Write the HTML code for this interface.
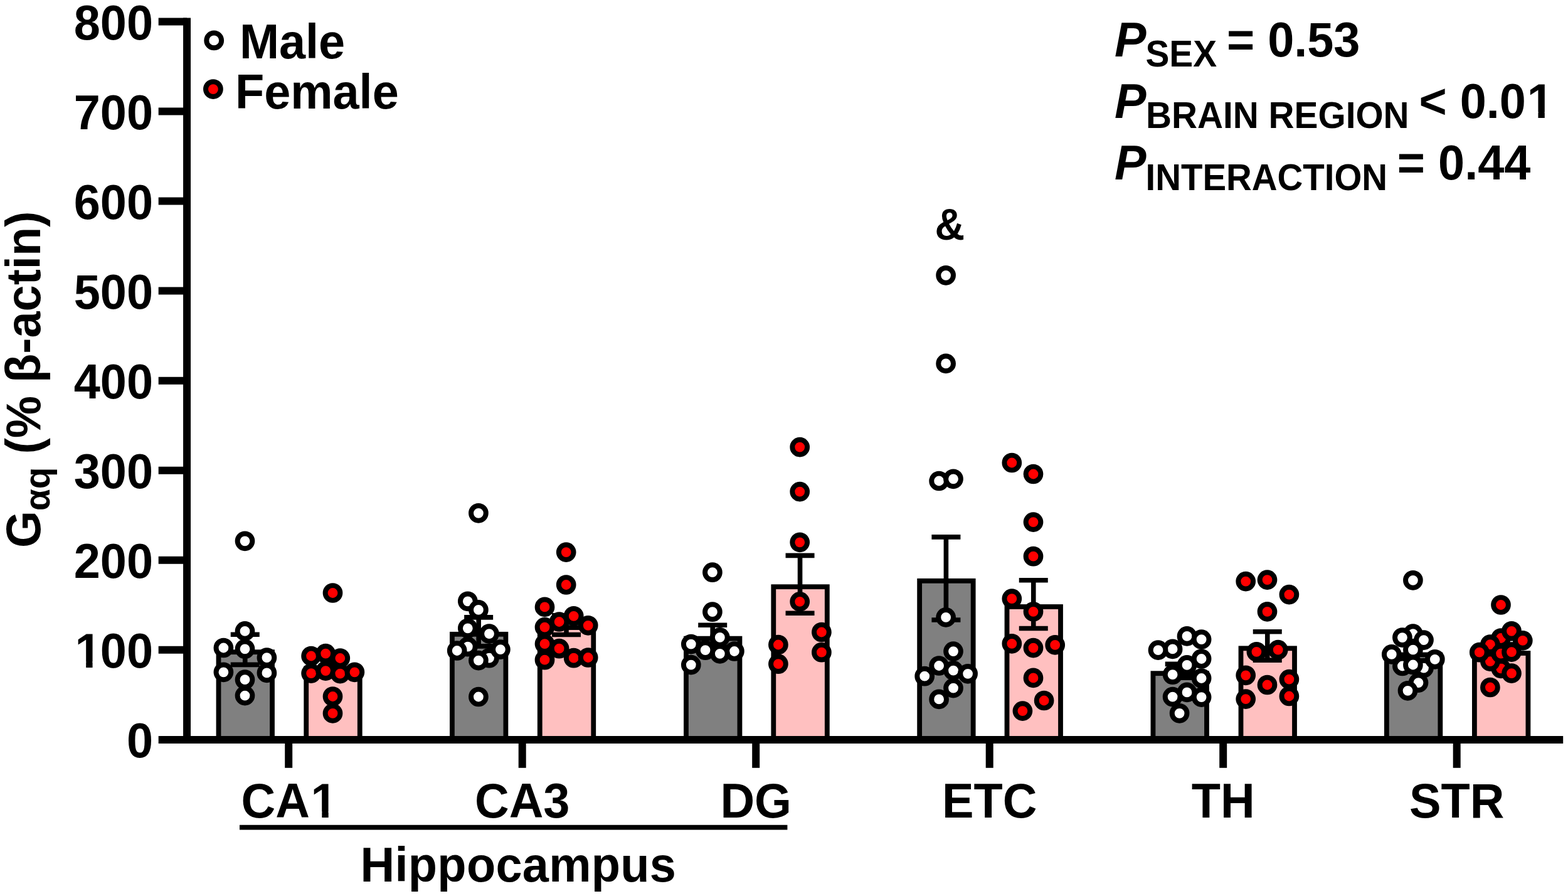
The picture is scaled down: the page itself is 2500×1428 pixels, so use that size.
<!DOCTYPE html>
<html lang="en"><head><meta charset="utf-8"><title>G&#945;q (% &#946;-actin)</title>
<style>
html,body{margin:0;padding:0;background:#fff;}
body{width:2500px;height:1428px;}
svg{display:block;}
text{font-family:"Liberation Sans", sans-serif;font-weight:bold;fill:#000;}
.t{font-size:75.7px;}
.s{font-size:56.8px;}
.amp{font-size:66px;}
.bar{stroke:#000;stroke-width:7.8;}
.m{fill:#808080;}.f{fill:#ffc0c0;}
.e{stroke:#000;stroke-width:7.6;fill:none;}
.ax{stroke:#000;stroke-width:12;fill:none;}
.dm{fill:#fff;stroke:#000;stroke-width:7.95;}
.df{fill:#ff0000;stroke:#000;stroke-width:7.95;}
</style></head><body>
<svg xmlns="http://www.w3.org/2000/svg" width="2500" height="1428" viewBox="0 0 2500 1428">
<rect x="0" y="0" width="2500" height="1428" fill="#fff"/>
<g id="bars">
<rect class="bar m" x="348.5" y="1039.2" width="85.5" height="139.7"/>
<rect class="bar f" x="488.25" y="1065.4" width="85.5" height="113.5"/>
<rect class="bar m" x="720.9" y="1010.8" width="85.5" height="168.1"/>
<rect class="bar f" x="860.75" y="1000.1" width="85.5" height="178.8"/>
<rect class="bar m" x="1093.95" y="1017.65" width="85.5" height="161.25"/>
<rect class="bar f" x="1233.3" y="935.2" width="85.5" height="243.7"/>
<rect class="bar m" x="1466.15" y="925.8" width="85.5" height="253.1"/>
<rect class="bar f" x="1605.5" y="967" width="85.5" height="211.9"/>
<rect class="bar m" x="1838.45" y="1073.2" width="85.5" height="105.7"/>
<rect class="bar f" x="1978.5" y="1033.3" width="85.5" height="145.6"/>
<rect class="bar m" x="2210.85" y="1043.5" width="85.5" height="135.4"/>
<rect class="bar f" x="2350.9" y="1041" width="85.5" height="137.9"/>
</g>
<g id="errors">
<path class="e" d="M367.75 1011.2H413.75M367.75 1059.4H413.75M390.75 1011.2V1059.4"/>
<path class="e" d="M507.5 1045.6H553.5M507.5 1077.4H553.5M530.5 1045.6V1077.4"/>
<path class="e" d="M740.15 983.9H786.15M740.15 1029.9H786.15M763.15 983.9V1029.9"/>
<path class="e" d="M880 980.9H926M880 1011.5H926M903 980.9V1011.5"/>
<path class="e" d="M1113.2 996.2H1159.2M1113.2 1031.3H1159.2M1136.2 996.2V1031.3"/>
<path class="e" d="M1252.55 885.4H1298.55M1252.55 977.2H1298.55M1275.55 885.4V977.2"/>
<path class="e" d="M1485.4 855.85H1531.4M1485.4 987.95H1531.4M1508.4 855.85V987.95"/>
<path class="e" d="M1624.75 924.7H1670.75M1624.75 1001.5H1670.75M1647.75 924.7V1001.5"/>
<path class="e" d="M1857.7 1058.4H1903.7M1857.7 1080.2H1903.7M1880.7 1058.4V1080.2"/>
<path class="e" d="M1997.75 1006.7H2043.75M1997.75 1052.1H2043.75M2020.75 1006.7V1052.1"/>
<path class="e" d="M2230.1 1026.5H2276.1M2230.1 1052.7H2276.1M2253.1 1026.5V1052.7"/>
<path class="e" d="M2370.15 1027.2H2416.15M2370.15 1047H2416.15M2393.15 1027.2V1047"/>
</g>
<g id="axes">
<path class="ax" d="M298.05 28.42V1184.9"/>
<path class="ax" d="M252.7 1178.9H2492.2"/>
<path class="ax" d="M252.7 1035.84H298.05"/>
<path class="ax" d="M252.7 892.78H298.05"/>
<path class="ax" d="M252.7 749.72H298.05"/>
<path class="ax" d="M252.7 606.66H298.05"/>
<path class="ax" d="M252.7 463.6H298.05"/>
<path class="ax" d="M252.7 320.54H298.05"/>
<path class="ax" d="M252.7 177.48H298.05"/>
<path class="ax" d="M252.7 34.42H298.05"/>
<path class="ax" d="M460.2 1178.9V1223.8"/>
<path class="ax" d="M832.7 1178.9V1223.8"/>
<path class="ax" d="M1205.2 1178.9V1223.8"/>
<path class="ax" d="M1577.7 1178.9V1223.8"/>
<path class="ax" d="M1950.2 1178.9V1223.8"/>
<path class="ax" d="M2322.7 1178.9V1223.8"/>
</g>
<g id="points">
<g class="dm">
<circle cx="390.5" cy="862.3" r="11.875"/>
<circle cx="390.5" cy="1005.9" r="11.875"/>
<circle cx="356.4" cy="1032.5" r="11.875"/>
<circle cx="390.5" cy="1034.3" r="11.875"/>
<circle cx="425.4" cy="1048.2" r="11.875"/>
<circle cx="356.4" cy="1071.3" r="11.875"/>
<circle cx="425.4" cy="1072.4" r="11.875"/>
<circle cx="390.5" cy="1083.2" r="11.875"/>
<circle cx="390.5" cy="1108.6" r="11.875"/>
</g>
<g class="df">
<circle cx="530.5" cy="945" r="11.875"/>
<circle cx="496.1" cy="1045.5" r="11.875"/>
<circle cx="519.2" cy="1041.6" r="11.875"/>
<circle cx="542.3" cy="1049" r="11.875"/>
<circle cx="496.1" cy="1073.1" r="11.875"/>
<circle cx="519.2" cy="1069.1" r="11.875"/>
<circle cx="542.3" cy="1073.6" r="11.875"/>
<circle cx="565.4" cy="1071.3" r="11.875"/>
<circle cx="530.5" cy="1110" r="11.875"/>
<circle cx="530.5" cy="1136.9" r="11.875"/>
</g>
<g class="dm">
<circle cx="762.9" cy="817.8" r="11.875"/>
<circle cx="745.8" cy="958.3" r="11.875"/>
<circle cx="762.9" cy="971.9" r="11.875"/>
<circle cx="745.8" cy="1001.3" r="11.875"/>
<circle cx="780" cy="1010.1" r="11.875"/>
<circle cx="745.8" cy="1030.7" r="11.875"/>
<circle cx="728.7" cy="1037" r="11.875"/>
<circle cx="780" cy="1048.7" r="11.875"/>
<circle cx="797.9" cy="1035.1" r="11.875"/>
<circle cx="762.9" cy="1052.6" r="11.875"/>
<circle cx="762.9" cy="1110.5" r="11.875"/>
</g>
<g class="df">
<circle cx="902.7" cy="880.1" r="11.875"/>
<circle cx="902.7" cy="932" r="11.875"/>
<circle cx="868.5" cy="967.4" r="11.875"/>
<circle cx="914.7" cy="981.8" r="11.875"/>
<circle cx="891.6" cy="991" r="11.875"/>
<circle cx="937.7" cy="996.8" r="11.875"/>
<circle cx="868.5" cy="999.6" r="11.875"/>
<circle cx="868.5" cy="1026.2" r="11.875"/>
<circle cx="891.6" cy="1033.7" r="11.875"/>
<circle cx="914.7" cy="1048.7" r="11.875"/>
<circle cx="937.7" cy="1048" r="11.875"/>
<circle cx="868.5" cy="1051.7" r="11.875"/>
</g>
<g class="dm">
<circle cx="1135.9" cy="912.2" r="11.875"/>
<circle cx="1135.9" cy="975.2" r="11.875"/>
<circle cx="1147.8" cy="1015.9" r="11.875"/>
<circle cx="1101.8" cy="1026.6" r="11.875"/>
<circle cx="1124.6" cy="1036.2" r="11.875"/>
<circle cx="1170.9" cy="1038" r="11.875"/>
<circle cx="1147.8" cy="1041.8" r="11.875"/>
<circle cx="1101.8" cy="1059.6" r="11.875"/>
</g>
<g class="df">
<circle cx="1275.2" cy="712.6" r="11.875"/>
<circle cx="1275.2" cy="783.6" r="11.875"/>
<circle cx="1275.2" cy="864.3" r="11.875"/>
<circle cx="1275.2" cy="958.9" r="11.875"/>
<circle cx="1309.9" cy="1007.5" r="11.875"/>
<circle cx="1240.9" cy="1027.5" r="11.875"/>
<circle cx="1309.9" cy="1039.7" r="11.875"/>
<circle cx="1240.9" cy="1058.2" r="11.875"/>
</g>
<g class="dm">
<circle cx="1508.1" cy="438.8" r="11.875"/>
<circle cx="1508.1" cy="579.4" r="11.875"/>
<circle cx="1497.1" cy="766.5" r="11.875"/>
<circle cx="1520" cy="763.3" r="11.875"/>
<circle cx="1508.1" cy="983.9" r="11.875"/>
<circle cx="1520" cy="1038.1" r="11.875"/>
<circle cx="1497.1" cy="1061" r="11.875"/>
<circle cx="1520" cy="1068.6" r="11.875"/>
<circle cx="1474.2" cy="1077.7" r="11.875"/>
<circle cx="1543.1" cy="1073.8" r="11.875"/>
<circle cx="1520" cy="1096.6" r="11.875"/>
<circle cx="1497.1" cy="1114.4" r="11.875"/>
</g>
<g class="df">
<circle cx="1613.3" cy="737.5" r="11.875"/>
<circle cx="1647.5" cy="755.5" r="11.875"/>
<circle cx="1647.5" cy="832.1" r="11.875"/>
<circle cx="1647.5" cy="886.7" r="11.875"/>
<circle cx="1613.3" cy="954.2" r="11.875"/>
<circle cx="1647.5" cy="974.8" r="11.875"/>
<circle cx="1613.3" cy="1025.8" r="11.875"/>
<circle cx="1647.5" cy="1032.6" r="11.875"/>
<circle cx="1682.2" cy="1027.9" r="11.875"/>
<circle cx="1647.5" cy="1080.4" r="11.875"/>
<circle cx="1664.6" cy="1116.5" r="11.875"/>
<circle cx="1630.4" cy="1133.1" r="11.875"/>
</g>
<g class="dm">
<circle cx="1892.5" cy="1013.9" r="11.875"/>
<circle cx="1915.6" cy="1019.15" r="11.875"/>
<circle cx="1869.6" cy="1034.4" r="11.875"/>
<circle cx="1846.5" cy="1036.15" r="11.875"/>
<circle cx="1915.6" cy="1050" r="11.875"/>
<circle cx="1892.5" cy="1059.9" r="11.875"/>
<circle cx="1869.6" cy="1075.2" r="11.875"/>
<circle cx="1915.6" cy="1081" r="11.875"/>
<circle cx="1892.5" cy="1103.4" r="11.875"/>
<circle cx="1869.6" cy="1110.6" r="11.875"/>
<circle cx="1915.6" cy="1111.1" r="11.875"/>
<circle cx="1880.6" cy="1136.8" r="11.875"/>
</g>
<g class="df">
<circle cx="1986.2" cy="926.6" r="11.875"/>
<circle cx="2020.5" cy="924.1" r="11.875"/>
<circle cx="2055.4" cy="947.6" r="11.875"/>
<circle cx="2020.5" cy="974.8" r="11.875"/>
<circle cx="2003.4" cy="1038.8" r="11.875"/>
<circle cx="2037.7" cy="1035.7" r="11.875"/>
<circle cx="1986.2" cy="1076.3" r="11.875"/>
<circle cx="2055.4" cy="1082.6" r="11.875"/>
<circle cx="2020.5" cy="1091.5" r="11.875"/>
<circle cx="1986.2" cy="1114.1" r="11.875"/>
<circle cx="2055.4" cy="1109.5" r="11.875"/>
</g>
<g class="dm">
<circle cx="2252.9" cy="924.8" r="11.875"/>
<circle cx="2252.9" cy="1010.1" r="11.875"/>
<circle cx="2235.9" cy="1016.05" r="11.875"/>
<circle cx="2270" cy="1020.1" r="11.875"/>
<circle cx="2252.9" cy="1035.7" r="11.875"/>
<circle cx="2218.8" cy="1042.9" r="11.875"/>
<circle cx="2235.9" cy="1061.5" r="11.875"/>
<circle cx="2270" cy="1064.6" r="11.875"/>
<circle cx="2287.8" cy="1050.8" r="11.875"/>
<circle cx="2252.9" cy="1059.5" r="11.875"/>
<circle cx="2261.5" cy="1088.1" r="11.875"/>
<circle cx="2244.5" cy="1100.8" r="11.875"/>
</g>
<g class="df">
<circle cx="2393" cy="964" r="11.875"/>
<circle cx="2393.1" cy="1017" r="11.875"/>
<circle cx="2393.1" cy="1065.3" r="11.875"/>
<circle cx="2375.9" cy="1027.1" r="11.875"/>
<circle cx="2375.9" cy="1054.1" r="11.875"/>
<circle cx="2393.1" cy="1041.6" r="11.875"/>
<circle cx="2358.8" cy="1039.7" r="11.875"/>
<circle cx="2410" cy="1039.1" r="11.875"/>
<circle cx="2410" cy="1005.8" r="11.875"/>
<circle cx="2427.8" cy="1020.8" r="11.875"/>
<circle cx="2410" cy="1073.1" r="11.875"/>
<circle cx="2375.9" cy="1095.5" r="11.875"/>
</g>
</g>
<g id="legend">
<circle class="dm" cx="341.2" cy="64.4" r="11.925"/>
<circle class="df" cx="339.9" cy="142.1" r="11.925"/>
<text class="t" transform="translate(381.9 93) scale(1 1.03)">Male</text>
<text class="t" transform="translate(374.9 173.4) scale(1 1.03)">Female</text>
</g>
<g id="yticklabels" style="text-anchor:end">
<text class="t" transform="translate(244 1207.3) scale(1 1.04)">0</text>
<text class="t" transform="translate(117.698 1064.24) scale(1 1.04)" style="text-anchor:start" dx="1.8,-1.8">100</text>
<text class="t" transform="translate(244 921.18) scale(1 1.04)">200</text>
<text class="t" transform="translate(244 778.12) scale(1 1.04)">300</text>
<text class="t" transform="translate(244 635.06) scale(1 1.04)">400</text>
<text class="t" transform="translate(244 492) scale(1 1.04)">500</text>
<text class="t" transform="translate(244 348.94) scale(1 1.04)">600</text>
<text class="t" transform="translate(244 205.88) scale(1 1.04)">700</text>
<text class="t" transform="translate(244 62.82) scale(1 1.04)">800</text>
</g>
<g id="xticklabels" style="text-anchor:middle">
<text class="t" transform="translate(384.482 1302.8) scale(1 1.04)" style="text-anchor:start" dx="0,0,1.8">CA1</text>
<text class="t" transform="translate(832.7 1302.8) scale(1 1.04)">CA3</text>
<text class="t" transform="translate(1205.2 1302.8) scale(1 1.04)">DG</text>
<text class="t" transform="translate(1577.7 1302.8) scale(1 1.04)">ETC</text>
<text class="t" transform="translate(1950.2 1302.8) scale(1 1.04)">TH</text>
<text class="t" transform="translate(2322.7 1302.8) scale(1 1.04)">STR</text>
</g>
<path class="e" d="M382 1318.6H1255.4"/>
<text class="t" transform="translate(574.543 1404.6) scale(1 1.03)" style="letter-spacing:0.3px">Hippocampus</text>
<g id="ytitle" transform="translate(63.8 873) rotate(-90)">
<text class="t" transform="translate(0 0) scale(1 1.02)">G<tspan class="s" dy="15.3">&#945;q</tspan><tspan dy="-15.3"> (% &#946;-actin)</tspan></text>
</g>
<text class="amp" transform="translate(1514.3 382.1) scale(1 1.075)" text-anchor="middle">&amp;</text>
<g id="stats">
<text class="t" transform="translate(1777 89.6) scale(1 1.04)"><tspan font-style="italic">P</tspan><tspan dx="-1" dy="15.577" style="font-size:56.8px">SEX </tspan><tspan dy="-15.577">= 0.53</tspan></text>
<text class="t" transform="translate(1777 188.1) scale(1 1.04)"><tspan font-style="italic">P</tspan><tspan dx="-0.5" dy="15.577" style="font-size:56.8px">BRAIN REGION </tspan><tspan dy="-15.577" dx="0,0,0,0,0,1.8">&lt; 0.01</tspan></text>
<text class="t" transform="translate(1777 286.4) scale(1 1.04)"><tspan font-style="italic">P</tspan><tspan dx="-1" dy="15.577" style="font-size:56.45px">INTERACTION </tspan><tspan dy="-15.577">= 0.44</tspan></text>
</g>
<g id="digit-one-foot-masks"><rect x="121.998" y="1054.4" width="15.19" height="11.2" fill="#fff"/><rect x="147.538" y="1054.4" width="13.7" height="11.2" fill="#fff"/><rect x="498.118" y="1293.4" width="15.19" height="11.2" fill="#fff"/><rect x="523.658" y="1293.4" width="13.7" height="11.2" fill="#fff"/><rect x="2437.249" y="178.4" width="15.19" height="11.2" fill="#fff"/><rect x="2462.789" y="178.4" width="13.7" height="11.2" fill="#fff"/></g>
</svg>
</body></html>
